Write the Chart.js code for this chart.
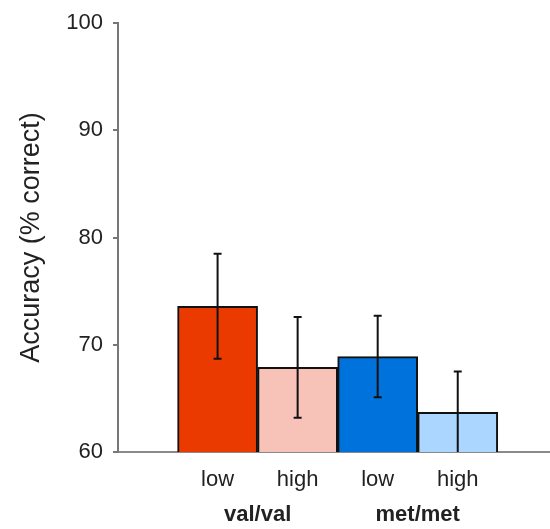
<!DOCTYPE html>
<html>
<head>
<meta charset="utf-8">
<script src="https://cdn.jsdelivr.net/npm/chart.js@4"></script>
<style>
  html, body { margin: 0; padding: 0; background: #ffffff; }
  #wrap { width: 550px; height: 529px; }
</style>
</head>
<body>
<div id="wrap"><canvas id="chart" width="550" height="529"></canvas></div>
<script>
// Conditions along the x axis, grouped by genotype
const conditions = ['low', 'high', 'low', 'high'];
const groups = ['val/val', 'met/met'];
const positions = [1, 2, 3, 4];
const groupPositions = [1.5, 3.5];

// Mean accuracy (% correct) and error half-widths
const accuracy = [73.6, 67.9, 68.9, 63.7];
const errors = [4.9, 4.7, 3.8, 3.8];

// Y axis ticks
const yTicks = [60, 70, 80, 90, 100];

const barColors = ['#EB3A00', '#F7C3B9', '#0072DB', '#AAD6FF'];

const FONT = "'Liberation Sans', Arial, sans-serif";

// Draws vertical error bars with small caps on each bar
const errorBars = {
  id: 'errorBars',
  afterDatasetsDraw(chart) {
    const { ctx, chartArea, scales } = chart;
    const xs = scales.x, ys = scales.y;
    ctx.save();
    ctx.beginPath();
    ctx.rect(chartArea.left, chartArea.top, chartArea.right - chartArea.left, chartArea.bottom - chartArea.top);
    ctx.clip();
    ctx.strokeStyle = '#111111';
    ctx.lineWidth = 2;
    const cap = 4;
    accuracy.forEach((v, i) => {
      const x = xs.getPixelForValue(positions[i]);
      const yTop = ys.getPixelForValue(v + errors[i]);
      const yBot = ys.getPixelForValue(v - errors[i]);
      ctx.beginPath();
      ctx.moveTo(x, yTop);
      ctx.lineTo(x, yBot);
      ctx.moveTo(x - cap, yTop);
      ctx.lineTo(x + cap, yTop);
      ctx.moveTo(x - cap, yBot);
      ctx.lineTo(x + cap, yBot);
      ctx.stroke();
    });
    ctx.restore();
  }
};

new Chart(document.getElementById('chart'), {
  type: 'bar',
  data: {
    datasets: [{
      data: positions.map((p, i) => ({ x: p, y: accuracy[i] })),
      backgroundColor: barColors,
      borderColor: '#111111',
      borderWidth: 2,
      barPercentage: 1,
      categoryPercentage: 1
    }]
  },
  options: {
    responsive: false,
    animation: false,
    layout: { padding: { top: 23, right: 1, left: 0, bottom: 0 } },
    plugins: { legend: { display: false }, tooltip: { enabled: false } },
    scales: {
      x: {
        type: 'linear',
        position: 'bottom',
        offset: false,
        min: -0.244,
        max: 5.14,
        afterBuildTicks(scale) { scale.ticks = positions.map(v => ({ value: v })); },
        afterFit(scale) { scale.height = 40; },
        grid: { display: false },
        border: { display: true, color: '#8a8a8a', width: 2 },
        ticks: {
          autoSkip: false,
          maxRotation: 0,
          padding: 7,
          color: '#222222',
          font: { family: FONT, size: 22 },
          callback: (v) => conditions[positions.indexOf(v)] ?? ''
        }
      },
      x2: {
        type: 'linear',
        position: 'bottom',
        offset: false,
        min: -0.244,
        max: 5.14,
        afterBuildTicks(scale) { scale.ticks = groupPositions.map(v => ({ value: v })); },
        afterFit(scale) { scale.height = 37; },
        grid: { display: false },
        border: { display: false },
        ticks: {
          autoSkip: false,
          maxRotation: 0,
          padding: 2,
          color: '#222222',
          font: { family: FONT, size: 22, weight: 'bold' },
          callback: (v) => groups[groupPositions.indexOf(v)] ?? ''
        }
      },
      y: {
        min: 60,
        max: 100,
        afterBuildTicks(scale) { scale.ticks = yTicks.map(v => ({ value: v })); },
        afterFit(scale) { scale.width = 118; },
        grid: { display: true, drawOnChartArea: false, drawTicks: true, tickLength: 5, color: '#777777', lineWidth: 2 },
        border: { display: true, color: '#777777', width: 2 },
        ticks: {
          padding: 10,
          color: '#222222',
          font: { family: FONT, size: 22 }
        },
        title: {
          display: true,
          text: 'Accuracy (% correct)',
          color: '#222222',
          font: { family: FONT, size: 27 },
          padding: { top: 15, bottom: 0 }
        }
      }
    }
  },
  plugins: [errorBars]
});
</script>
</body>
</html>
